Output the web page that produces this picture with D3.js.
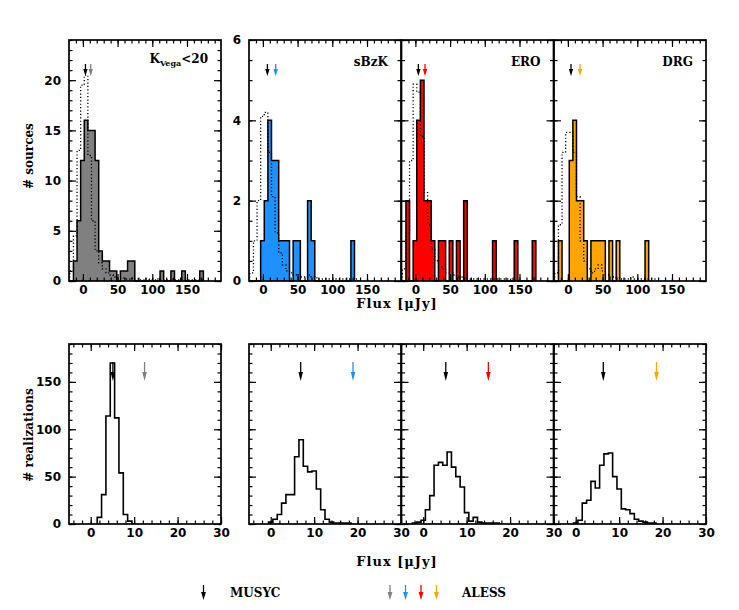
<!DOCTYPE html>
<html>
<head>
<meta charset="utf-8">
<script src="https://cdn.jsdelivr.net/npm/d3@7"></script>
<style>
  html, body { margin: 0; padding: 0; background: #fff; }
  svg { display: block; }
  .lab { font-family: "DejaVu Serif", serif; font-weight: bold; font-size: 12px; }
  .title { font-family: "DejaVu Serif", serif; font-weight: bold; font-size: 13px; letter-spacing: 1px; }
</style>
</head>
<body>
<svg id="chart" width="739" height="610"></svg>
<script>
(() => {
  // flux bins for the top row (uJy)
  const fluxBinStart = -18.8
  const fluxBinWidth = 5.2

  const sampleColors = ['#808080', '#1e90ff', '#ff0000', '#ffa500']

  // ALESS counterparts, # sources per flux bin
  const alessKCounts = [0, 2, 6, 12, 16, 15, 15, 12, 3, 2, 2, 1, 1, 0, 1, 1, 2, 2, 0, 0, 0, 0, 0, 0, 0, 1, 0, 0, 1, 0, 0, 1, 0, 0, 0, 0, 1]
  const alessSbzkCounts = [0, 0, 0, 1, 2, 4, 3, 3, 1, 1, 1, 0, 1, 1, 0, 0, 2, 1, 0, 0, 0, 0, 0, 0, 0, 0, 0, 0, 1]
  const alessEroCounts = [0, 2, 0, 1, 4, 5, 2, 2, 1, 0, 1, 1, 0, 1, 0, 1, 0, 2, 0, 0, 0, 0, 0, 0, 0, 1, 0, 0, 0, 0, 0, 1, 0, 0, 0, 0, 1]
  const alessDrgCounts = [0, 1, 0, 0, 3, 4, 2, 2, 1, 0, 1, 1, 1, 1, 0, 1, 0, 1, 0, 0, 0, 0, 0, 0, 0, 1]

  // MUSYC distribution (dotted), scaled to the sample
  const musycKDist = [1, 4.5, 13, 19.5, 20.5, 12.5, 6, 3, 1.8, 1.2, 0.8, 0.6, 0.4, 0.3, 0.3, 0.2, 0.2, 0.3, 0.2, 0.1, 0.1, 0.2, 0.1, 0.1, 0.2, 0.1, 0.1, 0.1, 0.2, 0.1, 0.1, 0.1, 0.1, 0.1, 0.1, 0.1, 0.1]
  const musycSbzkDist = [0.2, 1, 2, 4.1, 4.2, 3.2, 2.1, 1.2, 0.7, 0.4, 0.25, 0.2, 0.15, 0.1, 0.1, 0.1, 0.15, 0.1, 0.08, 0.05, 0.05, 0.05, 0.05, 0.05, 0.05, 0.05, 0.05, 0.05, 0.05, 0.05]
  const musycEroDist = [0.3, 1.2, 3, 4.9, 4.7, 3.6, 2.2, 1.4, 0.8, 0.5, 0.35, 0.3, 0.2, 0.2, 0.15, 0.1, 0.1, 0.08, 0.05, 0.05, 0.05, 0.05, 0.05, 0.05, 0.05, 0.05, 0.05, 0.05, 0.05, 0.05]
  const musycDrgDist = [0.2, 1.4, 3.2, 3.7, 3.7, 3.2, 2.1, 1.0, 0.5, 0.3, 0.2, 0.3, 0.4, 0.25, 0.15, 0.1, 0.1, 0.08, 0.05, 0.05, 0.05, 0.1, 0.05, 0.05, 0.05, 0.05, 0.05, 0.05]

  const musycMedianFlux = [3.7, 6.5, 4.3, 4.5]
  const alessMedianFlux = [11.3, 18.5, 13.9, 17.5]

  // random realizations, 1 uJy bins centred on integers
  const realFirstBin = [2, 0, -2, 0]
  const realKCounts = [7, 31, 114, 170, 112, 54, 10, 3]
  const realSbzkCounts = [2, 5, 10, 22, 31, 31, 71, 89, 61, 55, 56, 37, 15, 5, 2, 1, 1, 1, 1]
  const realEroCounts = [1, 2, 4, 15, 30, 62, 65, 62, 76, 60, 50, 39, 12, 3, 7, 2, 1, 1, 1, 1]
  const realDrgCounts = [1, 4, 22, 25, 45, 38, 62, 74, 75, 50, 37, 16, 15, 11, 5, 3, 2, 1, 1]

  const realMusycMedian = [5.1, 6.9, 5.2, 6.35]
  const realAlessMedian = [12.4, 18.95, 15.0, 18.6]

  const alessCounts = [alessKCounts, alessSbzkCounts, alessEroCounts, alessDrgCounts]
  const musycDists = [musycKDist, musycSbzkDist, musycEroDist, musycDrgDist]
  const realCounts = [realKCounts, realSbzkCounts, realEroCounts, realDrgCounts]

  const svg = d3.select('#chart')
  const panelLefts = [69, 249, 401.5, 554]
  const panelWidth = 152
  const topRow = { top: 40, height: 241 }
  const simRow = { top: 344, height: 180 }

  const stepPoints = (start, width, counts) => {
    const pts = [[start, 0]]
    counts.forEach((c, i) => pts.push([start + i * width, c]))
    pts.push([start + counts.length * width, 0])
    return pts
  }

  const drawArrow = (g, x, yTail, yTip, color, headLength, headHalf) => {
    g.append('line')
      .attr('x1', x).attr('x2', x)
      .attr('y1', yTail).attr('y2', yTip - headLength + 1)
      .attr('stroke', color)
      .attr('stroke-width', 1.3)
    g.append('path')
      .attr('d', `M${x - headHalf},${yTip - headLength}L${x + headHalf},${yTip - headLength}L${x},${yTip}Z`)
      .attr('fill', color)
  }

  const styleAxis = sel => {
    sel.select('.domain').remove()
    sel.attr('font-family', '"DejaVu Sans", sans-serif')
      .attr('font-size', 12)
      .attr('font-weight', 'bold')
    sel.selectAll('line').attr('stroke-width', 1.2)
  }

  const drawFrame = (g, x, y, w, h, xMajor, xMinor, yMajor, yMinor, showX, showY) => {
    const major = 7
    const minor = 3.5
    const fmt = d3.format('d')
    g.append('g').attr('transform', `translate(0,${h})`)
      .call(d3.axisBottom(x).tickValues(xMinor).tickSize(-minor).tickFormat(''))
      .call(styleAxis)
    g.append('g').attr('transform', `translate(0,${h})`)
      .call(d3.axisBottom(x).tickValues(xMajor).tickSize(-major).tickPadding(4).tickFormat(showX ? fmt : ''))
      .call(styleAxis)
    g.append('g')
      .call(d3.axisTop(x).tickValues(xMinor).tickSize(-minor).tickFormat(''))
      .call(styleAxis)
    g.append('g')
      .call(d3.axisTop(x).tickValues(xMajor).tickSize(-major).tickFormat(''))
      .call(styleAxis)
    g.append('g')
      .call(d3.axisLeft(y).tickValues(yMinor).tickSize(-minor).tickFormat(''))
      .call(styleAxis)
    g.append('g')
      .call(d3.axisLeft(y).tickValues(yMajor).tickSize(-major).tickPadding(8).tickFormat(showY ? fmt : ''))
      .call(styleAxis)
    g.append('g').attr('transform', `translate(${w},0)`)
      .call(d3.axisRight(y).tickValues(yMinor).tickSize(-minor).tickFormat(''))
      .call(styleAxis)
    g.append('g').attr('transform', `translate(${w},0)`)
      .call(d3.axisRight(y).tickValues(yMajor).tickSize(-major).tickFormat(''))
      .call(styleAxis)
    g.append('rect')
      .attr('width', w)
      .attr('height', h)
      .attr('fill', 'none')
      .attr('stroke', '#000')
      .attr('stroke-width', 1.7)
  }

  // top row: ALESS flux histograms
  alessCounts.forEach((counts, i) => {
    const h = topRow.height
    const g = svg.append('g').attr('transform', `translate(${panelLefts[i]},${topRow.top})`)
    const x = d3.scaleLinear().domain([-20, 199]).range([0, panelWidth])
    const y = d3.scaleLinear().domain(i === 0 ? [0, 24] : [0, 6]).range([h, 0])

    const pts = stepPoints(fluxBinStart, fluxBinWidth, counts)
    g.append('path')
      .datum(pts)
      .attr('fill', sampleColors[i])
      .attr('d', d3.area().curve(d3.curveStepAfter)
        .x(d => x(d[0])).y0(y(0)).y1(d => y(d[1])))
    g.append('path')
      .datum(pts)
      .attr('fill', 'none')
      .attr('stroke', '#000')
      .attr('stroke-width', 1.5)
      .attr('d', d3.line().curve(d3.curveStepAfter)
        .x(d => x(d[0])).y(d => y(d[1])))

    g.append('path')
      .datum(stepPoints(fluxBinStart, fluxBinWidth, musycDists[i]))
      .attr('fill', 'none')
      .attr('stroke', '#000')
      .attr('stroke-width', 1.3)
      .attr('stroke-dasharray', '1.2,2.2')
      .attr('d', d3.line().curve(d3.curveStepAfter)
        .x(d => x(d[0])).y(d => y(d[1])))

    drawArrow(g, x(musycMedianFlux[i]), 24, 36, '#000', 7, 2.2)
    drawArrow(g, x(alessMedianFlux[i]), 24, 36, sampleColors[i], 7, 2.2)

    const yMajor = i === 0 ? [0, 5, 10, 15, 20] : [0, 2, 4, 6]
    const yMinor = i === 0 ? d3.range(0, 25, 1) : d3.range(0, 6.01, 0.5)
    drawFrame(g, x, y, panelWidth, h, [0, 50, 100, 150], d3.range(-10, 200, 10), yMajor, yMinor, true, i < 2)

    const label = g.append('text')
      .attr('class', 'lab')
      .attr('text-anchor', 'end')
      .attr('x', panelWidth - 13)
      .attr('y', i === 0 ? 23 : 26)
    if (i === 0) {
      label.append('tspan').text('K')
      label.append('tspan').attr('font-size', 8).attr('dy', 3).text('Vega')
      label.append('tspan').attr('dy', -3).text('<20')
    } else {
      label.text(['K', 'sBzK', 'ERO', 'DRG'][i])
    }
  })

  // bottom row: realizations
  realCounts.forEach((counts, i) => {
    const h = simRow.height
    const g = svg.append('g').attr('transform', `translate(${panelLefts[i]},${simRow.top})`)
    const x = d3.scaleLinear().domain([-5, 30]).range([0, panelWidth])
    const y = d3.scaleLinear().domain([0, 190]).range([h, 0])

    g.append('path')
      .datum(stepPoints(realFirstBin[i] - 0.5, 1, counts))
      .attr('fill', 'none')
      .attr('stroke', '#000')
      .attr('stroke-width', 1.6)
      .attr('d', d3.line().curve(d3.curveStepAfter)
        .x(d => x(d[0])).y(d => y(d[1])))

    drawArrow(g, x(realMusycMedian[i]), 18, 37, '#000', 9, 2.3)
    drawArrow(g, x(realAlessMedian[i]), 18, 37, sampleColors[i], 9, 2.3)

    drawFrame(g, x, y, panelWidth, h, [0, 10, 20, 30], d3.range(-4, 31, 2), [0, 50, 100, 150], d3.range(0, 191, 10), true, i === 0)
  })

  // axis titles
  svg.append('text').attr('class', 'lab')
    .attr('text-anchor', 'middle')
    .attr('transform', 'translate(33,156) rotate(-90)')
    .text('# sources')
  svg.append('text').attr('class', 'lab')
    .attr('text-anchor', 'middle')
    .attr('transform', 'translate(33,435) rotate(-90)')
    .text('# realizations')
  svg.append('text').attr('class', 'title')
    .attr('text-anchor', 'middle')
    .attr('x', 397).attr('y', 308)
    .text('Flux [\u03bcJy]')
  svg.append('text').attr('class', 'title')
    .attr('text-anchor', 'middle')
    .attr('x', 397).attr('y', 566)
    .text('Flux [\u03bcJy]')

  // legend
  const legend = svg.append('g')
  drawArrow(legend, 203.5, 585, 600, '#000', 8, 2.4)
  legend.append('text').attr('class', 'lab').attr('x', 230).attr('y', 597).text('MUSYC')
  sampleColors.forEach((c, i) => drawArrow(legend, 390 + i * 15.5, 585, 600, c, 8, 2.4))
  legend.append('text').attr('class', 'lab').attr('x', 462).attr('y', 597).text('ALESS')
})()
</script>
</body>
</html>
